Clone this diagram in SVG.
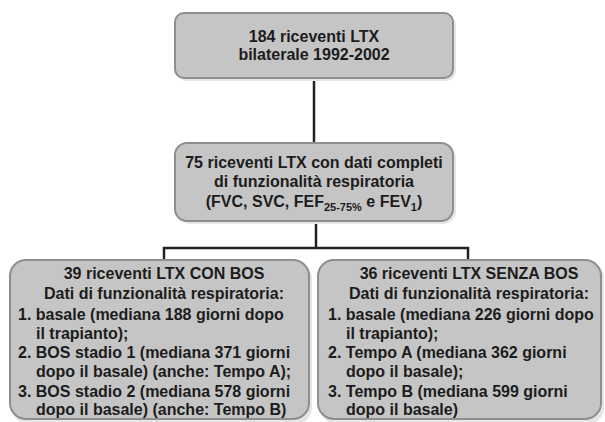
<svg xmlns="http://www.w3.org/2000/svg" width="605" height="422" viewBox="0 0 605 422">
  <defs>
    <style>
      .box { fill: #c5c5c5; stroke: #8e8e8e; stroke-width: 2; }
      .shadow { fill: #e6e6e6; }
      .t { font-family: "Liberation Sans", Arial, Helvetica, sans-serif; font-weight: bold; font-size: 16px; fill: #1c1c1c; }
      .c { text-anchor: middle; }
      .sub { font-size: 11px; }
      .conn { fill: none; stroke: #222; stroke-width: 2.5; }
    </style>
  </defs>
  <rect width="605" height="422" fill="#ffffff"/>

  <g id="connectors">
    <path class="conn" d="M314 78 V143"/>
    <path class="conn" d="M316 221 V248"/>
    <path class="conn" d="M164 261 V248 H468 V261"/>
  </g>

  <g id="node-top">
    <rect class="shadow" x="177" y="15" width="279" height="66" rx="10"/>
    <rect class="box" x="175" y="13" width="278" height="65" rx="9"/>
    <text class="t c" x="314" y="42">184 riceventi LTX</text>
    <text class="t c" x="314" y="60">bilaterale 1992-2002</text>
  </g>

  <g id="node-middle">
    <rect class="shadow" x="177" y="145" width="279" height="79" rx="13"/>
    <rect class="box" x="175" y="143" width="278" height="78" rx="12"/>
    <text class="t c" x="314" y="168">75 riceventi LTX con dati completi</text>
    <text class="t c" x="314" y="187">di funzionalità respiratoria</text>
    <text class="t c" x="314" y="207">(FVC, SVC, FEF<tspan class="sub" dy="4">25-75%</tspan><tspan dy="-4"> e FEV</tspan><tspan class="sub" dy="4">1</tspan><tspan dy="-4">)</tspan></text>
  </g>

  <g id="node-con-bos">
    <rect class="shadow" x="12" y="262" width="300" height="162" rx="16"/>
    <rect class="box" x="10" y="260" width="299" height="159" rx="16"/>
    <text class="t c" x="164" y="279">39 riceventi LTX CON BOS</text>
    <text class="t c" x="164" y="299">Dati di funzionalità respiratoria:</text>
    <text class="t" x="18" y="320">1. basale (mediana 188 giorni dopo</text>
    <text class="t" x="36" y="339">il trapianto);</text>
    <text class="t" x="18" y="358">2. BOS stadio 1 (mediana 371 giorni</text>
    <text class="t" x="36" y="377">dopo il basale) (anche: Tempo A);</text>
    <text class="t" x="18" y="397">3. BOS stadio 2 (mediana 578 giorni</text>
    <text class="t" x="36" y="415">dopo il basale) (anche: Tempo B)</text>
  </g>

  <g id="node-senza-bos">
    <rect class="shadow" x="320" y="262" width="284" height="162" rx="16"/>
    <rect class="box" x="318" y="260" width="283" height="159" rx="16"/>
    <text class="t c" x="469" y="279">36 riceventi LTX SENZA BOS</text>
    <text class="t c" x="469" y="299">Dati di funzionalità respiratoria:</text>
    <text class="t" x="328" y="320">1. basale (mediana 226 giorni dopo</text>
    <text class="t" x="346" y="339">il trapianto);</text>
    <text class="t" x="328" y="358">2. Tempo A (mediana 362 giorni</text>
    <text class="t" x="346" y="377">dopo il basale);</text>
    <text class="t" x="328" y="397">3. Tempo B (mediana 599 giorni</text>
    <text class="t" x="346" y="415">dopo il basale)</text>
  </g>
</svg>
